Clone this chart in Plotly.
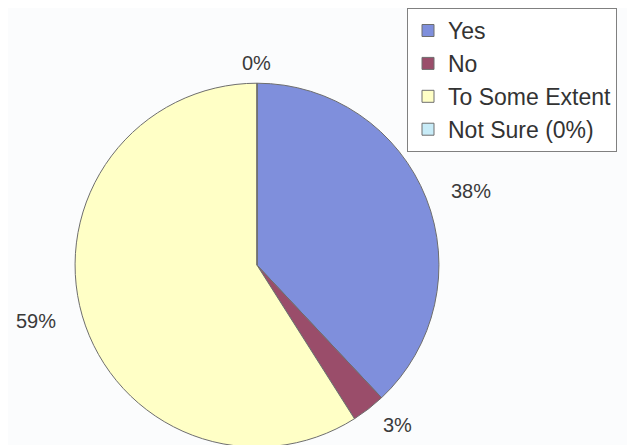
import math
import plotly.graph_objects as go

labels = ["Yes", "No", "To Some Extent", "Not Sure (0%)"]
values = [38, 3, 59, 0]
colors = ["#7f8fdc", "#9a4d6a", "#ffffc6", "#c8ecf8"]

W, H = 635, 445
# pie placement (pixels, figure coordinates)
cx, cy, r = 249, 255, 184
dom_x = [(cx - r) / W, (cx + r) / W]
dom_y = [(H - cy - r) / H, (H - cy + r) / H]

fig = go.Figure(go.Pie(
    labels=labels,
    values=values,
    sort=False,
    direction="clockwise",
    rotation=0,
    marker=dict(colors=colors, line=dict(color="#6e6e6e", width=1)),
    textinfo="none",
    showlegend=True,
    domain=dict(x=dom_x, y=dom_y),
    hoverinfo="label+percent",
))

# percentage labels placed outside each slice, from the data
total = sum(values)
lab_rx, lab_ry = 230, 204
cum = 0
annotations = []
for v in values:
    mid = (cum + v / 2) / total * 2 * math.pi
    cum += v
    px = cx + lab_rx * math.sin(mid)
    py = cy - lab_ry * math.cos(mid)
    annotations.append(dict(
        x=px / W, y=1 - py / H, xref="paper", yref="paper",
        text=f"{round(v / total * 100)}%", showarrow=False,
        xanchor="center", yanchor="middle",
        font=dict(family="Liberation Sans, Arial, sans-serif", size=20, color="#3a3a3a"),
    ))

fig.update_layout(
    width=W, height=H,
    margin=dict(l=0, r=0, t=0, b=0),
    paper_bgcolor="#fbfcfd",
    plot_bgcolor="#fbfcfd",
    annotations=annotations,
    legend=dict(
        x=399 / W, y=1 + 5 / H, xanchor="left", yanchor="top",
        font=dict(family="Liberation Sans, Arial, sans-serif", size=23, color="#333333"),
        bordercolor="#808080", borderwidth=1, bgcolor="#ffffff",
        traceorder="normal", itemwidth=30,
    ),
)

fig.write_html("out.html")
